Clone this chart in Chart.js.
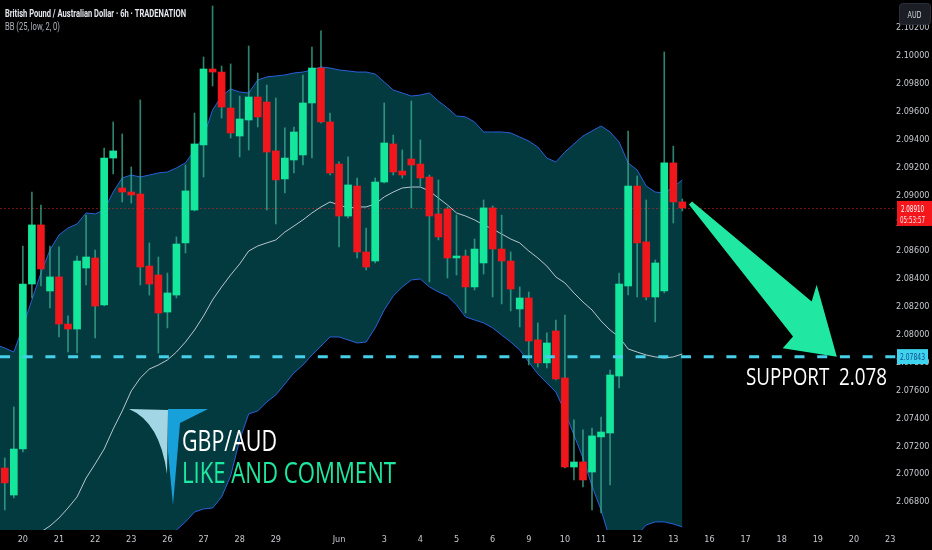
<!DOCTYPE html>
<html lang="en">
<head>
<meta charset="UTF-8">
<title>GBP/AUD 6h - Bollinger Bands</title>
<script src="https://cdn.jsdelivr.net/npm/chart.js"></script>
<style>
  html, body { margin: 0; padding: 0; background: #000; }
  #wrap { width: 932px; height: 550px; }
</style>
</head>
<body>
<div id="wrap"><canvas id="chart" width="932" height="550"></canvas></div>
<script>
// candle data, 6h bars, index 0 = first visible bar
const candleOpen = [
  2.07044, 2.06850, 2.07180, 2.08364, 2.08788, 2.08314, 2.08415, 2.08077, 2.08041, 2.08479,
  2.08551, 2.08214, 2.09268, 2.09053, 2.09024, 2.09010, 2.08493, 2.08429, 2.08163, 2.08285,
  2.08659, 2.08895, 2.09362, 2.09907, 2.09885, 2.09627, 2.09426, 2.09541, 2.09706, 2.09670,
  2.09319, 2.09118, 2.09254, 2.09290, 2.09663, 2.09914, 2.09527, 2.09225, 2.08852, 2.09067,
  2.08594, 2.08529, 2.09096, 2.09369, 2.09175, 2.09261, 2.09225, 2.09132, 2.08867, 2.08902,
  2.08551, 2.08565, 2.08343, 2.08515, 2.08910, 2.08615, 2.08529, 2.08185, 2.08264, 2.07963,
  2.07798, 2.08027, 2.07690, 2.07051, 2.07087, 2.07015, 2.07267, 2.07295, 2.07704, 2.08350,
  2.09067, 2.08666, 2.08271, 2.08314, 2.09233, 2.08953
];
const candleHigh = [
  2.07116, 2.07482, 2.08637, 2.09024, 2.08931, 2.08637, 2.08630, 2.08135, 2.08565, 2.08859,
  2.08608, 2.09340, 2.09527, 2.09441, 2.09204, 2.09685, 2.08659, 2.08558, 2.08443, 2.08702,
  2.09218, 2.09591, 2.09993, 2.10359, 2.09928, 2.09943, 2.09713, 2.10072, 2.09878, 2.09792,
  2.09699, 2.09484, 2.09491, 2.09864, 2.10065, 2.10180, 2.09591, 2.09240, 2.09276, 2.09125,
  2.08766, 2.09125, 2.09663, 2.09433, 2.09326, 2.09677, 2.09398, 2.09146, 2.09111, 2.08917,
  2.08859, 2.08608, 2.08687, 2.08967, 2.08924, 2.08859, 2.08594, 2.08343, 2.08307, 2.08085,
  2.08013, 2.08106, 2.08142, 2.07389, 2.07317, 2.07331, 2.07410, 2.07747, 2.08443, 2.09462,
  2.09139, 2.08967, 2.08537, 2.10029, 2.09354, 2.08974
];
const candleLow = [
  2.06743, 2.06829, 2.07159, 2.08264, 2.08350, 2.08192, 2.07984, 2.07876, 2.07869, 2.08357,
  2.07977, 2.08206, 2.09154, 2.08953, 2.08945, 2.08357, 2.08285, 2.07869, 2.08049, 2.08264,
  2.08587, 2.08888, 2.09132, 2.09785, 2.09555, 2.09412, 2.09276, 2.09326, 2.09491, 2.08895,
  2.08795, 2.09017, 2.09161, 2.09218, 2.09268, 2.09520, 2.09146, 2.08630, 2.08838, 2.08551,
  2.08465, 2.08515, 2.09089, 2.09146, 2.09125, 2.08910, 2.09067, 2.08379, 2.08680, 2.08407,
  2.08429, 2.08156, 2.08321, 2.08436, 2.08271, 2.08221, 2.08171, 2.08056, 2.07783, 2.07769,
  2.07762, 2.07676, 2.07044, 2.06958, 2.06908, 2.06743, 2.06721, 2.06922, 2.07618, 2.08285,
  2.08271, 2.08250, 2.08092, 2.08300, 2.08802, 2.08888
];
const candleClose = [
  2.06937, 2.07180, 2.08364, 2.08788, 2.08472, 2.08415, 2.08077, 2.08041, 2.08529, 2.08558,
  2.08206, 2.09268, 2.09319, 2.09024, 2.09003, 2.08486, 2.08364, 2.08156, 2.08300, 2.08651,
  2.09032, 2.09369, 2.09907, 2.09885, 2.09634, 2.09448, 2.09548, 2.09706, 2.09563, 2.09311,
  2.09111, 2.09268, 2.09455, 2.09663, 2.09914, 2.09527, 2.09161, 2.08852, 2.09075, 2.08594,
  2.08486, 2.09096, 2.09376, 2.09168, 2.09146, 2.09218, 2.09125, 2.08852, 2.08702, 2.08551,
  2.08565, 2.08343, 2.08615, 2.08910, 2.08615, 2.08529, 2.08328, 2.08264, 2.07955, 2.07798,
  2.07941, 2.07683, 2.07051, 2.07087, 2.06958, 2.07274, 2.07302, 2.07711, 2.08364, 2.09067,
  2.08659, 2.08271, 2.08515, 2.09233, 2.08953, 2.08910
];

// BB (25, low, 2, 0), starting one bar before the first candle
const bandStart = -1;
const upperBand = [
  2.07927, 2.07905, 2.07876, 2.08056, 2.08250, 2.08443, 2.08608, 2.08716, 2.08766, 2.08795,
  2.08874, 2.08867, 2.08895, 2.09024, 2.09125, 2.09146, 2.09132, 2.09146, 2.09161, 2.09168,
  2.09197, 2.09233, 2.09326, 2.09419, 2.09613, 2.09713, 2.09763, 2.09742, 2.09735, 2.09828,
  2.09850, 2.09857, 2.09864, 2.09878, 2.09885, 2.09900, 2.09921, 2.09914, 2.09900, 2.09893,
  2.09885, 2.09885, 2.09871, 2.09814, 2.09756, 2.09735, 2.09713, 2.09720, 2.09735, 2.09677,
  2.09627, 2.09570, 2.09563, 2.09527, 2.09455, 2.09455, 2.09455, 2.09448, 2.09419, 2.09390,
  2.09347, 2.09268, 2.09240, 2.09311, 2.09369, 2.09426, 2.09462, 2.09498, 2.09455, 2.09383,
  2.09233, 2.09182, 2.09067, 2.09024, 2.09017, 2.09060, 2.09111
];
const midBand = [
  2.06276, 2.06334, 2.06398, 2.06463, 2.06528, 2.06585, 2.06628, 2.06685, 2.06757, 2.06836,
  2.06972, 2.07073, 2.07180, 2.07324, 2.07453, 2.07597, 2.07690, 2.07754, 2.07783, 2.07819,
  2.07876, 2.07948, 2.08034, 2.08135, 2.08250, 2.08343, 2.08429, 2.08508, 2.08601, 2.08637,
  2.08659, 2.08680, 2.08737, 2.08780, 2.08824, 2.08874, 2.08917, 2.08953, 2.08931, 2.08910,
  2.08917, 2.08917, 2.08938, 2.08989, 2.09024, 2.09053, 2.09060, 2.09060, 2.09032, 2.08981,
  2.08931, 2.08874, 2.08852, 2.08824, 2.08788, 2.08759, 2.08723, 2.08687, 2.08659, 2.08601,
  2.08551, 2.08493, 2.08415, 2.08372, 2.08300, 2.08235, 2.08178, 2.08099, 2.08034, 2.07984,
  2.07898, 2.07876, 2.07855, 2.07841, 2.07833, 2.07841, 2.07862
];
const lowerBand = [
  2.06169, 2.06133, 2.06097, 2.06111, 2.06133, 2.06154, 2.06169, 2.06205, 2.06241, 2.06276,
  2.06298, 2.06327, 2.06348, 2.06384, 2.06420, 2.06456, 2.06484, 2.06513, 2.06542, 2.06571,
  2.06599, 2.06657, 2.06728, 2.06750, 2.06757, 2.06836, 2.06987, 2.07245, 2.07432, 2.07453,
  2.07518, 2.07568, 2.07647, 2.07726, 2.07783, 2.07855, 2.07919, 2.07984, 2.07984, 2.07963,
  2.07941, 2.07948, 2.08049, 2.08178, 2.08278, 2.08343, 2.08393, 2.08400, 2.08343, 2.08307,
  2.08278, 2.08214, 2.08128, 2.08106, 2.08085, 2.08049, 2.07998, 2.07948, 2.07891, 2.07805,
  2.07719, 2.07654, 2.07589, 2.07446, 2.07281, 2.07116, 2.06915, 2.06743, 2.06528, 2.06492,
  2.06513, 2.06563, 2.06635, 2.06657, 2.06657, 2.06642, 2.06621
];

// axis ticks
const dayTickIndex = [2, 6, 10, 14, 18, 22, 26, 30, 37, 42, 46, 50, 54, 58, 62, 66, 70, 74, 78, 82, 86, 90, 94, 98];
const dayTickLabels = ['20', '21', '22', '23', '26', '27', '28', '29', 'Jun', '3', '4', '5', '6', '9', '10', '11', '12', '13', '16', '17', '18', '19', '20', '23'];
const priceTicks = [2.068, 2.070, 2.072, 2.074, 2.076, 2.078, 2.080, 2.082, 2.084, 2.086, 2.088, 2.090, 2.092, 2.094, 2.096, 2.098, 2.100, 2.102];

const lastPrice = 2.08910;
const countdown = '05:53:57';
const supportLevel = 2.07843;

const UP = '#14e69c';
const DOWN = '#f0171c';
const WICK = 'rgba(60,175,145,0.75)';
const NARROW = '"Liberation Sans Narrow", "DejaVu Sans Condensed", sans-serif';

const bodies = candleOpen.map((o, i) => ({ x: i, y: [o, candleClose[i]] }));
const wicks = candleLow.map((l, i) => ({ x: i, y: [l, candleHigh[i]] }));
const bodyColors = candleClose.map((c, i) => c >= candleOpen[i] ? UP : DOWN);
const toPts = arr => arr.map((v, i) => ({ x: i + bandStart, y: v }));

// squeeze text to a width, like the screenshot
function fitText(ctx, text, x, y, width, font, color) {
  ctx.save();
  ctx.font = font;
  ctx.fillStyle = color;
  ctx.textAlign = 'left';
  ctx.textBaseline = 'alphabetic';
  const w = ctx.measureText(text).width;
  ctx.translate(x, y);
  ctx.scale(width / w, 1);
  ctx.fillText(text, 0, 0);
  ctx.restore();
}

const overlay = {
  id: 'overlay',
  beforeDraw(chart) {
    const ctx = chart.ctx;
    ctx.save();
    ctx.fillStyle = '#000';
    ctx.fillRect(0, 0, chart.width, chart.height);
    ctx.restore();
  },
  afterDatasetDraw(chart, args) {
    if (args.index !== 1) return;
    // current price line, under the candles
    const { ctx, chartArea } = chart;
    const y = chart.scales.y.getPixelForValue(lastPrice);
    ctx.save();
    ctx.strokeStyle = 'rgba(200,40,40,0.55)';
    ctx.lineWidth = 1;
    ctx.setLineDash([2, 2]);
    ctx.beginPath();
    ctx.moveTo(chartArea.left, Math.round(y) + 0.5);
    ctx.lineTo(chartArea.right, Math.round(y) + 0.5);
    ctx.stroke();
    ctx.restore();
  },
  afterDatasetsDraw(chart) {
    const { ctx, chartArea } = chart;
    const xs = chart.scales.x, ys = chart.scales.y;
    const ySup = ys.getPixelForValue(supportLevel);

    // support dashed line
    ctx.save();
    ctx.strokeStyle = '#45cfe8';
    ctx.lineWidth = 3;
    ctx.setLineDash([10, 12.7]);
    ctx.beginPath();
    ctx.moveTo(chartArea.left, ySup);
    ctx.lineTo(chartArea.right, ySup);
    ctx.stroke();
    ctx.restore();

    // big arrow from last bar down to support
    const tx = xs.getPixelForValue(75.9), ty = ys.getPixelForValue(2.08945);
    const px = xs.getPixelForValue(92.1), py = ySup;
    const dx = px - tx, dy = py - ty, L = Math.hypot(dx, dy);
    const ux = dx / L, uy = dy / L, nx = -uy, ny = ux;
    const shape = [[0, -0.01], [0.730, -0.0935], [0.689, -0.165], [1, 0], [0.795, 0.157], [0.789, 0.084], [0, 0.01]];
    ctx.save();
    ctx.fillStyle = '#20e8a2';
    ctx.beginPath();
    shape.forEach(([a, p], i) => {
      const x = tx + ux * a * L + nx * p * L;
      const y = ty + uy * a * L + ny * p * L;
      if (i === 0) ctx.moveTo(x, y); else ctx.lineTo(x, y);
    });
    ctx.closePath();
    ctx.fill();
    ctx.restore();

    fitText(ctx, 'SUPPORT  2.078', 746, ySup + 28.5, 141, '23px "Open Sans", sans-serif', '#ffffff');

    // logo
    ctx.save();
    ctx.fillStyle = '#a3d6e4';
    ctx.beginPath();
    ctx.moveTo(129, 409);
    ctx.lineTo(168, 410);
    ctx.lineTo(167, 474);
    ctx.quadraticCurveTo(160, 422, 129, 409);
    ctx.fill();
    ctx.fillStyle = '#17a0da';
    ctx.beginPath();
    ctx.moveTo(168, 409);
    ctx.lineTo(208, 409);
    ctx.lineTo(180, 423);
    ctx.lineTo(173, 505);
    ctx.lineTo(168, 452);
    ctx.closePath();
    ctx.fill();
    ctx.restore();

    fitText(ctx, 'GBP/AUD', 182, 451, 95, '29px "Open Sans", sans-serif', '#ffffff');
    fitText(ctx, 'LIKE AND COMMENT', 182, 483, 214, '29px "Open Sans", sans-serif', '#1de9a0');
  },
  afterDraw(chart) {
    const { ctx, chartArea } = chart;
    const ys = chart.scales.y;
    const axisL = chartArea.right;

    // header
    fitText(ctx, 'British Pound / Australian Dollar \u00b7 6h \u00b7 TRADENATION', 5, 16.5, 181, 'bold 10px Roboto, sans-serif', '#e6e8ee');
    fitText(ctx, 'BB (25, low, 2, 0)', 5, 29.5, 55, '10px Roboto, sans-serif', '#b2b5be');

    // currency button
    ctx.save();
    ctx.fillStyle = '#1b1e25';
    ctx.strokeStyle = '#2a2e39';
    ctx.beginPath();
    ctx.roundRect(899.5, 3.5, 31, 21, 3);
    ctx.fill();
    ctx.stroke();
    ctx.restore();
    fitText(ctx, 'AUD', 907.5, 17.5, 14, '9px ' + NARROW, '#d1d4dc');

    // last price tag
    const yp = ys.getPixelForValue(lastPrice);
    ctx.save();
    ctx.fillStyle = '#f5161b';
    ctx.fillRect(axisL + 1, yp - 7, 35, 25);
    ctx.restore();
    fitText(ctx, lastPrice.toFixed(5), axisL + 5, yp + 4, 23, '9px ' + NARROW, '#ffffff');
    fitText(ctx, countdown, axisL + 4, yp + 15, 25, '9px ' + NARROW, '#ffe4e4');

    // support tag
    const ysu = ys.getPixelForValue(supportLevel);
    ctx.save();
    ctx.fillStyle = '#3fd4ee';
    ctx.fillRect(axisL + 1, ysu - 7.5, 31, 15);
    ctx.restore();
    fitText(ctx, supportLevel.toFixed(5), axisL + 4, ysu + 3.5, 25, '9px ' + NARROW, '#124a8a');
  }
};

new Chart(document.getElementById('chart'), {
  type: 'bar',
  data: {
    datasets: [
      {
        type: 'line', label: 'upper', data: toPts(upperBand), order: 12,
        borderColor: '#2a5fd8', borderWidth: 1, pointRadius: 0, tension: 0,
        fill: 2, backgroundColor: '#033a40'
      },
      {
        type: 'line', label: 'basis', data: toPts(midBand), order: 10,
        borderColor: 'rgba(215,222,228,0.85)', borderWidth: 1, pointRadius: 0, tension: 0, fill: false
      },
      {
        type: 'line', label: 'lower', data: toPts(lowerBand), order: 11,
        borderColor: '#2a5fd8', borderWidth: 1, pointRadius: 0, tension: 0, fill: false
      },
      {
        label: 'wick', data: wicks, order: 5, grouped: false,
        barThickness: 1, backgroundColor: WICK
      },
      {
        label: 'body', data: bodies, order: 1, grouped: false,
        barThickness: 7, minBarLength: 1.5, backgroundColor: bodyColors
      }
    ]
  },
  options: {
    responsive: false,
    animation: false,
    layout: { padding: 0 },
    plugins: { legend: { display: false }, tooltip: { enabled: false } },
    scales: {
      x: {
        type: 'linear', min: -0.53, max: 98.65, offset: false,
        grid: { display: false, drawTicks: false }, border: { display: false },
        afterBuildTicks: s => { s.ticks = dayTickIndex.map(v => ({ value: v })); },
        afterFit: s => { s.height = 20; s.paddingLeft = 0; s.paddingRight = 0; },
        ticks: {
          autoSkip: false, maxRotation: 0, padding: 4, color: '#c6c9cf',
          font: { family: NARROW, size: 9 },
          callback: v => dayTickLabels[dayTickIndex.indexOf(v)]
        }
      },
      y: {
        position: 'right', min: 2.06599, max: 2.10402,
        grid: { display: false, drawTicks: false }, border: { display: false },
        afterBuildTicks: s => { s.ticks = priceTicks.map(v => ({ value: v })); },
        afterFit: s => { s.width = 36; s.paddingTop = 0; s.paddingBottom = 0; },
        ticks: {
          padding: 0, crossAlign: 'center', color: '#c6c9cf',
          font: { family: NARROW, size: 9 },
          callback: v => v.toFixed(5)
        }
      }
    }
  },
  plugins: [overlay]
});
</script>
</body>
</html>
